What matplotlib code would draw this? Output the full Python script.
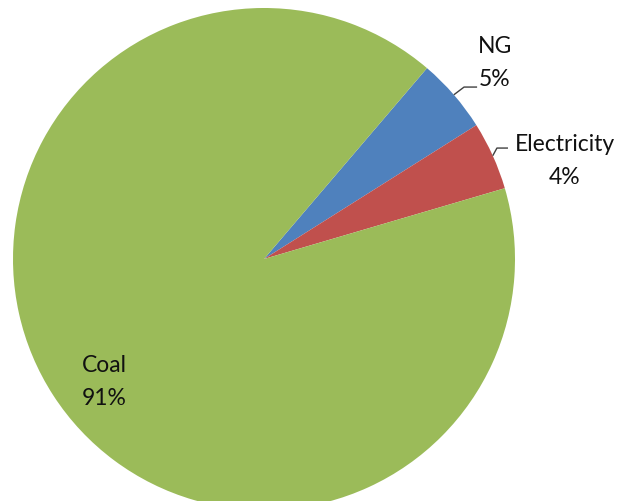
import numpy as np
import matplotlib
matplotlib.use("Agg")
import matplotlib.pyplot as plt

categories = ["NG", "Electricity", "Coal"]
values = [4.8, 4.4, 90.8]
colors = ["#4F81BD", "#C0504D", "#9BBB59"]
pct_labels = [f"{v:.0f}%" for v in values]

# label positions (data units, radius = 1) and leader elbows
label_pos = [(0.92, 0.781), (1.199, 0.390), (-0.635, -0.490)]
leaders = [((0.797, 0.685), (0.849, 0.685)), ((0.928, 0.442), (0.972, 0.442)), None]

plt.rcParams['font.family'] = ['Lato', 'DejaVu Sans']

fig = plt.figure(figsize=(6.2, 5.01), dpi=100)
ax = fig.add_axes([0, 0, 1, 1])
start = 49.5
wedges, _ = ax.pie(values, colors=colors, startangle=start, counterclock=False,
                   radius=1.0, center=(0, 0), wedgeprops=dict(linewidth=0))

W, H = 620, 501
cx, cy, R = 264, 259, 251
ax.set_xlim(-cx / R, (W - cx) / R)
ax.set_ylim(-(H - cy) / R, cy / R)
ax.set_aspect('auto')
ax.axis('off')

for w, cat, pl, pos, ld in zip(wedges, categories, pct_labels, label_pos, leaders):
    ax.text(pos[0], pos[1], f"{cat}\n{pl}", ha='center', va='center',
            fontsize=16.5, color='#111111', linespacing=1.68)
    if ld is not None:
        mid = np.deg2rad((w.theta1 + w.theta2) / 2)
        x0, y0 = np.cos(mid), np.sin(mid)
        ax.plot([x0, ld[0][0], ld[1][0]], [y0, ld[0][1], ld[1][1]],
                color='#404040', linewidth=1.0, solid_capstyle='butt')

fig.savefig("out.png", dpi=100)
